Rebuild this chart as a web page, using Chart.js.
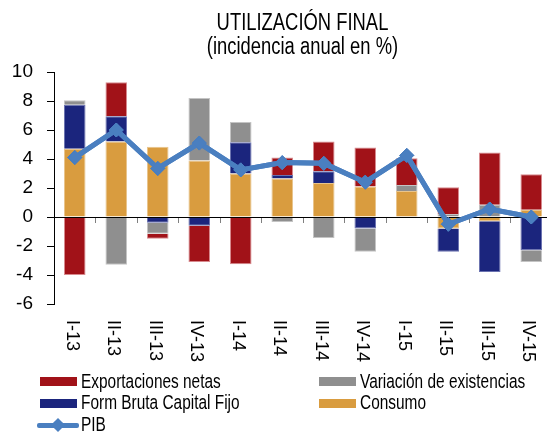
<!DOCTYPE html>
<html>
<head>
<meta charset="utf-8">
<script src="https://cdn.jsdelivr.net/npm/chart.js@4.4.1/dist/chart.umd.min.js"></script>
<style>
  html, body { margin: 0; padding: 0; background: #fff; overflow: hidden; }
  #wrap { position: relative; width: 547px; height: 433px; overflow: hidden; font-family: 'Liberation Sans', Arial, sans-serif; color: #000; }
  #c { position: absolute; left: 0; top: 0; }
  #title { position: absolute; left: 0; width: 605px; top: 11px; text-align: center; font-size: 23px; line-height: 23.5px; transform: scaleX(0.8); transform-origin: 302.5px 0; white-space: nowrap; }
  .lg { position: absolute; font-size: 19.3px; line-height: 22px; white-space: nowrap; transform: scaleX(0.8); transform-origin: 0 0; }
  .sw { position: absolute; width: 37px; height: 9px; }
</style>
</head>
<body>
<div id="wrap">
  <canvas id="c" width="560" height="433" style="width:560px;height:433px"></canvas>
  <div id="title">UTILIZACIÓN FINAL<br>(incidencia anual en %)</div>
  <div id="legend"></div>
</div>
<script>
const categories = ['I-13','II-13','III-13','IV-13','I-14','II-14','III-14','IV-14','I-15','II-15','III-15','IV-15'];
const consumo      = [4.7, 5.2, 4.85, 3.9, 3.0, 2.65, 2.35, 2.1, 1.8, -0.8, -0.3, 0.5];
const fbcf         = [3.05, 1.75, -0.4, -0.6, 2.15, 0.25, 0.8, -0.8, 0, -1.6, -3.5, -2.3];
const variacion    = [0.3, -3.3, -0.75, 4.3, 1.4, -0.35, -1.45, -1.6, 0.4, 0.2, 0.85, -0.8];
const exportaciones= [-4.0, 2.35, -0.35, -2.5, -3.25, 1.2, 2.05, 2.7, 1.85, 1.85, 3.6, 2.45];
const pib          = [4.1, 6.0, 3.35, 5.1, 3.25, 3.75, 3.7, 2.4, 4.25, -0.5, 0.55, 0.0];
const yTicks = { min: -6, max: 10, step: 2 };

const FONT = "'Liberation Sans', Arial, sans-serif";
const C_RED = '#A11218', C_GREY = '#8F8F8F', C_NAVY = '#1B257D', C_ORANGE = '#D99C3F', C_LINE = '#4A7FC0';

function barDs(label, data, color, border) {
  return { type: 'bar', label, data, backgroundColor: color, borderColor: border, borderWidth: 1,
           stack: 'comp', barPercentage: 0.52, categoryPercentage: 1.0, order: 1 };
}

const xLabelsPlugin = {
  id: 'xLabels',
  afterDraw(chart) {
    // redraw PIB line on top of the zero line
    chart.getDatasetMeta(4).controller.draw();
    const ctx = chart.ctx, xs = chart.scales.x;
    ctx.save();
    ctx.font = '18px ' + FONT;
    ctx.fillStyle = '#000';
    ctx.textAlign = 'left';
    ctx.textBaseline = 'middle';
    categories.forEach((c, i) => {
      const x = xs.getPixelForValue(i);
      ctx.save();
      ctx.translate(x - 3, 320);
      ctx.rotate(Math.PI / 2);
      ctx.fillText(c, 0, 0);
      ctx.restore();
    });
    ctx.restore();
  }
};

new Chart(document.getElementById('c'), {
  data: {
    labels: categories,
    datasets: [
      barDs('Consumo', consumo, C_ORANGE, '#E8C48C'),
      barDs('Form Bruta Capital Fijo', fbcf, C_NAVY, '#6A72B0'),
      barDs('Variación de existencias', variacion, C_GREY, '#C4C4C4'),
      barDs('Exportaciones netas', exportaciones, C_RED, '#D88A8E'),
      { type: 'line', label: 'PIB', data: pib, borderColor: C_LINE, backgroundColor: C_LINE,
        borderWidth: 5, pointStyle: 'rectRot', pointRadius: 7, pointBorderWidth: 1,
        pointBackgroundColor: C_LINE, pointBorderColor: C_LINE, tension: 0, stack: 'pib', order: 0 }
    ]
  },
  options: {
    responsive: false,
    animation: false,
    devicePixelRatio: 1,
    layout: { padding: { left: 0, right: 6, top: 72, bottom: 129 } },
    plugins: { legend: { display: false }, title: { display: false }, tooltip: { enabled: false } },
    scales: {
      x: {
        type: 'category',
        position: { y: 0 },
        stacked: true,
        offset: true,
        ticks: { display: false },
        grid: { drawOnChartArea: false, drawTicks: true, tickLength: 5, tickColor: '#808080', offset: true },
        border: { display: true, color: '#000', width: 1, z: 1 }
      },
      y: {
        stacked: true,
        min: yTicks.min, max: yTicks.max,
        ticks: { stepSize: yTicks.step, color: '#000', font: { family: FONT, size: 19 }, padding: 14 },
        grid: { drawOnChartArea: false, drawTicks: true, tickLength: 7, tickColor: '#000' },
        border: { display: true, color: '#000', width: 1 },
        afterFit(s) { s.width = 54; }
      }
    }
  },
  plugins: [xLabelsPlugin]
});

// legend
const legendItems = [
  { label: 'Exportaciones netas', color: C_RED, x: 40, y: 381.5 },
  { label: 'Variación de existencias', color: C_GREY, x: 319, y: 381.5 },
  { label: 'Form Bruta Capital Fijo', color: C_NAVY, x: 40, y: 403 },
  { label: 'Consumo', color: C_ORANGE, x: 319, y: 403 },
  { label: 'PIB', color: C_LINE, x: 40, y: 425, line: true }
];
const lg = document.getElementById('legend');
legendItems.forEach(it => {
  if (it.line) {
    const l = document.createElement('div');
    l.style.cssText = `position:absolute;left:${it.x - 3}px;top:${it.y - 2.5}px;width:42px;height:5px;background:${it.color};border-radius:2px;`;
    lg.appendChild(l);
    const d = document.createElement('div');
    d.style.cssText = `position:absolute;left:${it.x + 13}px;top:${it.y - 5}px;width:10px;height:10px;background:${it.color};transform:rotate(45deg);`;
    lg.appendChild(d);
  } else {
    const s = document.createElement('div');
    s.className = 'sw';
    s.style.left = it.x + 'px'; s.style.top = (it.y - 4.5) + 'px'; s.style.background = it.color;
    lg.appendChild(s);
  }
  const t = document.createElement('div');
  t.className = 'lg';
  t.textContent = it.label;
  t.style.left = (it.x + 41) + 'px';
  t.style.top = (it.y - 11) + 'px';
  lg.appendChild(t);
});
</script>
</body>
</html>
